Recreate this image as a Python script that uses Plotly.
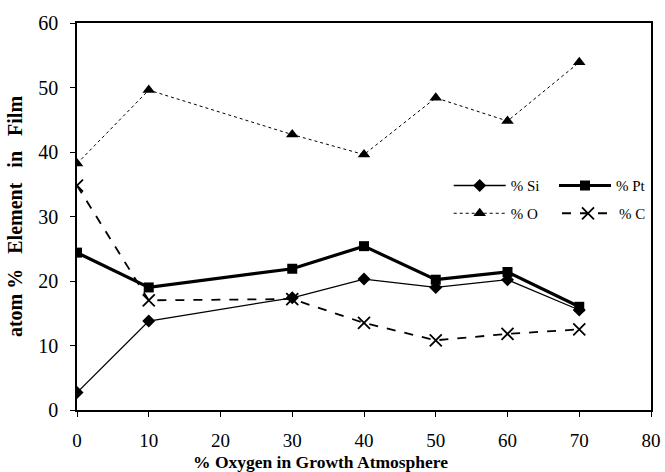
import plotly.graph_objects as go

oxygen = [0, 10, 30, 40, 50, 60, 70]
si = [2.7, 13.8, 17.4, 20.3, 19.0, 20.2, 15.5]
pt = [24.4, 19.0, 21.9, 25.4, 20.2, 21.4, 16.0]
o = [38.2, 49.6, 42.7, 39.6, 48.4, 44.8, 53.9]
c = [34.8, 17.0, 17.2, 13.5, 10.8, 11.8, 12.5]

FONT = "Liberation Serif"
NB = "\u00a0"
fig = go.Figure()
fig.add_trace(go.Scatter(x=oxygen, y=si, name="% Si", mode="lines+markers",
                         line=dict(color="black", width=1.3),
                         marker=dict(symbol="diamond", size=10, color="black"),
                         legend="legend", showlegend=True))
fig.add_trace(go.Scatter(x=oxygen, y=pt, name="% Pt", mode="lines+markers",
                         line=dict(color="black", width=3.2),
                         marker=dict(symbol="square", size=10, color="black"),
                         legend="legend2", showlegend=True))
fig.add_trace(go.Scatter(x=oxygen, y=o, name="% O", mode="lines+markers",
                         line=dict(color="black", width=1, dash="dot"),
                         marker=dict(symbol="triangle-up", size=11, color="black"),
                         legend="legend3", showlegend=True))
fig.add_trace(go.Scatter(x=oxygen, y=c, name="% C", mode="lines+markers",
                         line=dict(color="black", width=1.8, dash="dash"),
                         marker=dict(symbol="x-thin-open", size=12, color="black",
                                     line=dict(color="black", width=1.8)),
                         legend="legend4", showlegend=True))

leg = dict(orientation="v", yanchor="middle", bgcolor="rgba(0,0,0,0)",
           font=dict(family=FONT, size=15, color="black"), itemwidth=52)
row1 = (410 - 184) / 390
row2 = (410 - 212) / 390
colx = (450 - 77) / 576
y_title = ("<b>atom" + NB + "%" + NB * 3 + "Element" + NB * 3 + "in" + NB * 3 + "Film</b>")
fig.update_layout(
    width=665, height=472,
    margin=dict(l=77, r=12, t=20, b=62),
    paper_bgcolor="white", plot_bgcolor="white",
    font=dict(family=FONT, color="black"),
    showlegend=True,
    legend=dict(leg, x=colx, xanchor="left", y=row1),
    legend2=dict(leg, x=1.0, xanchor="right", y=row1),
    legend3=dict(leg, x=colx, xanchor="left", y=row2),
    legend4=dict(leg, x=1.0, xanchor="right", y=row2),
    xaxis=dict(range=[0, 80], tickmode="linear", dtick=10, tick0=0, automargin=False,
               showgrid=False, zeroline=False, showline=True, linecolor="black",
               linewidth=1.5, mirror=True, ticks="outside", ticklen=5, tickcolor="black",
               ticklabelstandoff=7,
               tickfont=dict(family=FONT, size=19, color="black")),
    yaxis=dict(range=[0, 60], tickmode="linear", dtick=10, tick0=0,
               showgrid=False, zeroline=False, showline=True, linecolor="black",
               linewidth=1.5, mirror=True, ticks="outside", ticklen=5, tickcolor="black",
               ticklabelstandoff=8,
               tickfont=dict(family=FONT, size=20, color="black"),
               title=dict(text=y_title,
                          font=dict(family=FONT, size=20, color="black"), standoff=10)),
    annotations=[dict(text="<b>% Oxygen in Growth Atmosphere</b>", xref="paper", yref="paper",
                      x=(321 - 77) / 576, y=-0.134, xanchor="center", yanchor="middle",
                      showarrow=False, font=dict(family=FONT, size=17.5, color="black"))],
)
fig.write_html("out.html")
